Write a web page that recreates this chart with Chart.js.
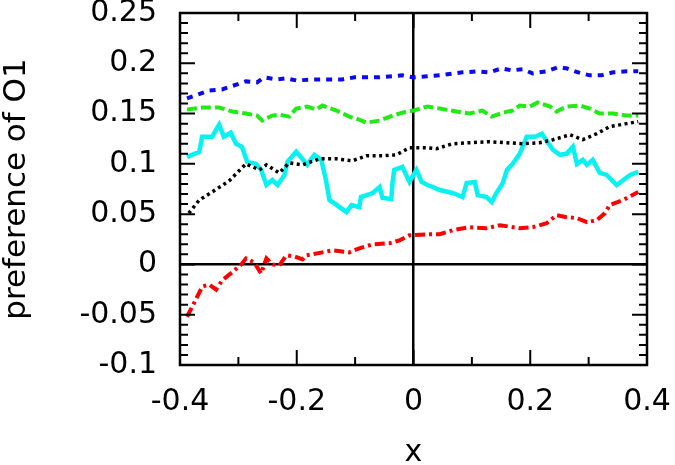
<!DOCTYPE html>
<html>
<head>
<meta charset="utf-8">
<script src="https://cdn.jsdelivr.net/npm/chart.js@4"></script>
<style>
  html, body { margin: 0; padding: 0; background: #fff; }
  #wrap { width: 675px; height: 465px; }
</style>
</head>
<body>
<div id="wrap"><canvas id="c" width="675" height="465"></canvas></div>
<script>
// ---- data ----
const xTicks = [-0.4, -0.2, 0, 0.2, 0.4];
const xMinorTicks = [-0.3, -0.1, 0.1, 0.3];
const yTicks = [-0.1, -0.05, 0, 0.05, 0.1, 0.15, 0.2, 0.25];
const yMinorTicks = [];
for (let i = -10; i <= 25; i++) { if (i % 5 !== 0) yMinorTicks.push(i / 100); }

const blueX = [-0.388,-0.35,-0.328,-0.287,-0.268,-0.256,-0.235,-0.218,-0.201,-0.161,-0.122,-0.101,-0.058,-0.019,0,0.024,0.045,0.084,0.11,0.13,0.151,0.168,0.187,0.204,0.228,0.247,0.262,0.282,0.302,0.322,0.342,0.365,0.385];
const blueY = [0.165,0.173,0.174,0.182,0.181,0.186,0.184,0.185,0.183,0.184,0.184,0.186,0.186,0.188,0.186,0.187,0.188,0.191,0.192,0.191,0.195,0.193,0.194,0.190,0.192,0.196,0.195,0.191,0.188,0.188,0.191,0.192,0.192];

const greenX = [-0.388,-0.362,-0.333,-0.31,-0.287,-0.268,-0.259,-0.242,-0.23,-0.213,-0.201,-0.182,-0.167,-0.156,-0.132,-0.11,-0.093,-0.081,-0.058,-0.036,-0.012,0,0.024,0.045,0.074,0.096,0.118,0.134,0.153,0.17,0.182,0.199,0.213,0.234,0.245,0.262,0.285,0.302,0.319,0.342,0.365,0.385];
const greenY = [0.154,0.156,0.156,0.152,0.150,0.148,0.143,0.148,0.149,0.147,0.155,0.157,0.154,0.158,0.153,0.147,0.144,0.141,0.143,0.148,0.152,0.153,0.157,0.155,0.152,0.150,0.153,0.147,0.151,0.153,0.158,0.157,0.161,0.157,0.152,0.157,0.158,0.155,0.150,0.150,0.148,0.148];

const blackX = [-0.385,-0.367,-0.345,-0.316,-0.287,-0.264,-0.252,-0.23,-0.213,-0.19,-0.161,-0.132,-0.105,-0.081,-0.053,-0.029,-0.007,0.024,0.039,0.067,0.096,0.13,0.16,0.187,0.216,0.239,0.268,0.29,0.314,0.336,0.365,0.385];
const blackY = [0.051,0.064,0.072,0.083,0.100,0.094,0.099,0.091,0.101,0.099,0.105,0.105,0.103,0.108,0.108,0.109,0.116,0.116,0.115,0.120,0.121,0.122,0.121,0.120,0.121,0.124,0.129,0.124,0.130,0.137,0.140,0.142];

const cyanX = [-0.388,-0.367,-0.362,-0.345,-0.333,-0.325,-0.313,-0.304,-0.294,-0.285,-0.27,-0.261,-0.252,-0.242,-0.233,-0.221,-0.216,-0.201,-0.192,-0.182,-0.17,-0.158,-0.15,-0.144,-0.136,-0.115,-0.106,-0.093,-0.09,-0.07,-0.058,-0.053,-0.038,-0.036,-0.033,-0.019,-0.007,0.005,0.014,0.024,0.033,0.045,0.067,0.084,0.091,0.105,0.11,0.125,0.134,0.142,0.153,0.16,0.17,0.182,0.194,0.208,0.22,0.228,0.239,0.251,0.262,0.273,0.28,0.29,0.297,0.307,0.319,0.331,0.348,0.371,0.385];
const cyanY = [0.107,0.112,0.127,0.127,0.139,0.127,0.131,0.120,0.117,0.102,0.100,0.094,0.079,0.084,0.079,0.089,0.102,0.112,0.106,0.099,0.109,0.104,0.084,0.064,0.061,0.052,0.059,0.057,0.067,0.071,0.077,0.066,0.065,0.081,0.094,0.097,0.082,0.094,0.082,0.079,0.077,0.074,0.071,0.067,0.081,0.082,0.069,0.067,0.062,0.071,0.081,0.094,0.100,0.110,0.127,0.127,0.130,0.123,0.114,0.109,0.110,0.117,0.100,0.104,0.099,0.104,0.091,0.089,0.079,0.089,0.092];

const redX = [-0.388,-0.379,-0.362,-0.35,-0.338,-0.328,-0.311,-0.295,-0.287,-0.273,-0.261,-0.252,-0.242,-0.23,-0.218,-0.204,-0.19,-0.184,-0.156,-0.139,-0.11,-0.093,-0.07,-0.041,-0.024,-0.007,0.024,0.045,0.067,0.096,0.125,0.148,0.182,0.204,0.228,0.245,0.262,0.28,0.297,0.314,0.328,0.336,0.359,0.385];
const redY = [-0.052,-0.042,-0.022,-0.020,-0.025,-0.016,-0.008,0.000,0.006,0.002,-0.009,0.006,0.000,-0.001,0.009,0.008,0.005,0.009,0.012,0.014,0.012,0.016,0.020,0.021,0.024,0.029,0.030,0.030,0.034,0.037,0.036,0.039,0.036,0.037,0.041,0.049,0.047,0.046,0.042,0.044,0.051,0.059,0.064,0.072];

const xTitle = 'x';
const yTitle = 'preference of O1';

// ---- build chart ----
function pts(xs, ys) { return xs.map((x, i) => ({ x: x, y: ys[i] })); }
function series(xs, ys, color, dash, width) {
  return { data: pts(xs, ys), borderColor: color, borderWidth: width, borderDash: dash,
           borderCapStyle: 'butt', borderJoinStyle: 'miter', pointRadius: 0, tension: 0, fill: false };
}

const FONT = 'DejaVu Sans, Liberation Sans, sans-serif';
const fmt = v => String(Number(Number(v).toFixed(2)));
const isZero = ctx => ctx.tick && Math.abs(ctx.tick.value) < 1e-9;
const noPad = s => { s.paddingTop = 0; s.paddingBottom = 0; s.paddingLeft = 0; s.paddingRight = 0; };

const frameTicks = {
  id: 'frameTicks',
  afterDatasetsDraw(chart) {
    const { ctx, chartArea: a, scales } = chart;
    const xs = scales.x, ys = scales.y;
    ctx.save();
    ctx.strokeStyle = '#000';
    ctx.lineCap = 'butt';
    ctx.lineWidth = 2;
    const majorLen = 15, minorLen = 8;
    const drawX = (v, len) => {
      const p = xs.getPixelForValue(v);
      ctx.beginPath();
      ctx.moveTo(p, a.bottom); ctx.lineTo(p, a.bottom - len);
      ctx.moveTo(p, a.top); ctx.lineTo(p, a.top + len);
      ctx.stroke();
    };
    const drawY = (v, len) => {
      const p = ys.getPixelForValue(v);
      ctx.beginPath();
      ctx.moveTo(a.left, p); ctx.lineTo(a.left + len, p);
      ctx.moveTo(a.right, p); ctx.lineTo(a.right - len, p);
      ctx.stroke();
    };
    xTicks.forEach(v => drawX(v, majorLen));
    xMinorTicks.forEach(v => drawX(v, minorLen));
    yTicks.forEach(v => drawY(v, majorLen));
    yMinorTicks.forEach(v => drawY(v, minorLen));
    ctx.lineWidth = 2.5;
    ctx.strokeRect(a.left, a.top, a.right - a.left, a.bottom - a.top);
    ctx.restore();
  }
};

new Chart(document.getElementById('c'), {
  type: 'line',
  data: {
    datasets: [
      series(blueX, blueY, '#0a0af0', [6, 6], 4),
      series(greenX, greenY, '#22ea14', [10, 4], 4),
      series(blackX, blackY, '#000000', [3, 3.5], 3.5),
      series(cyanX, cyanY, '#08f2f2', [], 4.5),
      series(redX, redY, '#ff0000', [10, 4, 3, 4], 4)
    ]
  },
  options: {
    responsive: false,
    animation: false,
    events: [],
    layout: { padding: { top: 13, right: 28, left: 0, bottom: 0 } },
    plugins: { legend: { display: false }, tooltip: { enabled: false } },
    scales: {
      x: {
        type: 'linear', min: -0.4, max: 0.4,
        afterBuildTicks: s => { s.ticks = xTicks.map(v => ({ value: v })); },
        afterFit: s => { s.height = 100; noPad(s); },
        grid: { drawTicks: false, lineWidth: 2.5, color: c => isZero(c) ? '#000' : 'rgba(0,0,0,0)' },
        border: { display: false },
        ticks: { padding: 19, color: '#000', maxRotation: 0, autoSkip: false,
                 font: { family: FONT, size: 30 }, callback: fmt },
        title: { display: true, text: xTitle, color: '#000', padding: 0,
                 font: { family: FONT, size: 30, lineHeight: 0.76 } }
      },
      y: {
        type: 'linear', min: -0.1, max: 0.25,
        afterBuildTicks: s => { s.ticks = yTicks.map(v => ({ value: v })); },
        afterFit: s => { s.width = 180; noPad(s); },
        grid: { drawTicks: false, lineWidth: 2.5, color: c => isZero(c) ? '#000' : 'rgba(0,0,0,0)' },
        border: { display: false },
        ticks: { padding: 23, color: '#000', autoSkip: false,
                 font: { family: FONT, size: 30 }, callback: fmt },
        title: { display: true, text: yTitle, color: '#000', padding: 0,
                 font: { family: FONT, size: 31, lineHeight: 1.1 } }
      }
    }
  },
  plugins: [frameTicks]
});
</script>
</body>
</html>
